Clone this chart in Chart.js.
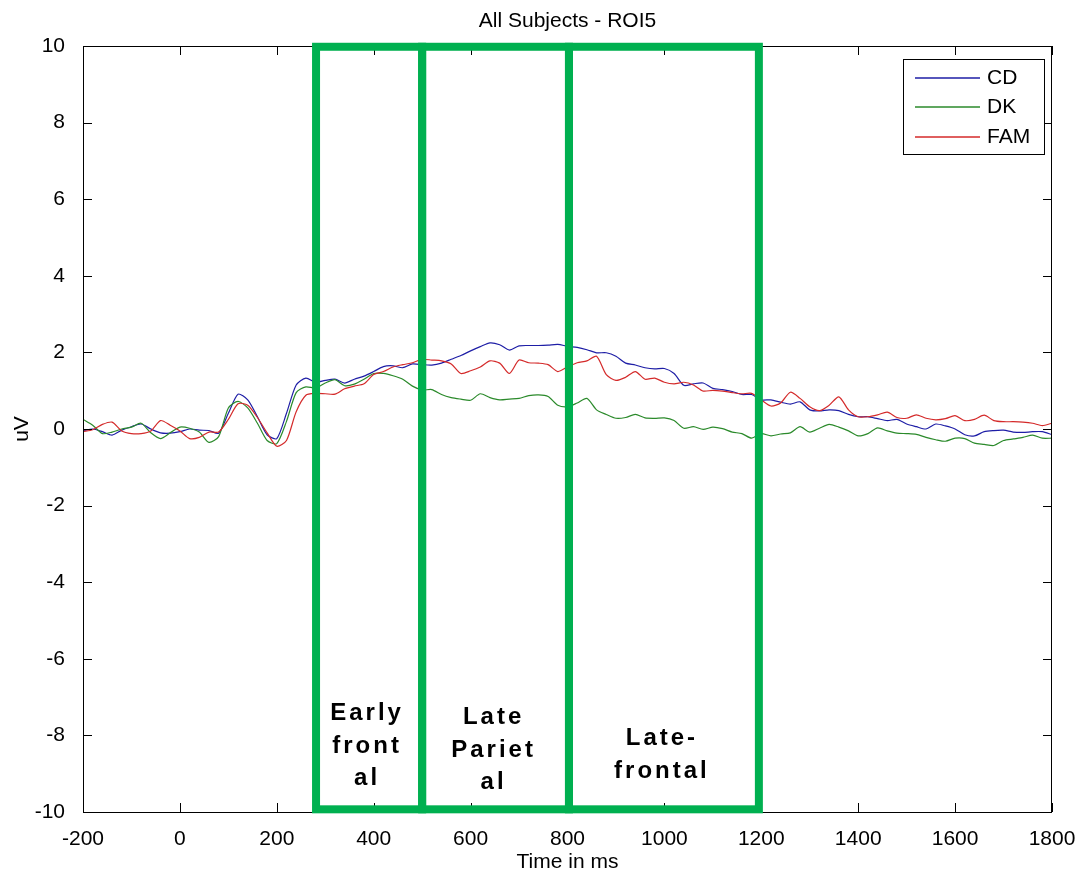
<!DOCTYPE html>
<html>
<head>
<meta charset="utf-8">
<title>All Subjects - ROI5</title>
<script src="https://cdn.jsdelivr.net/npm/chart.js@4.4.0/dist/chart.umd.min.js"></script>
<style>
	html, body { margin: 0; padding: 0; background: #ffffff; }
	#wrapper { width: 1090px; height: 878px; }
</style>
</head>
<body>
<div id="wrapper"><canvas id="erp-chart" width="1090" height="878"></canvas></div>
<script>
// time axis, ms
const times = [
	-200, -180, -160, -140, -120, -100, -80, -60, -40, -20,
	0, 20, 40, 60, 80, 100, 120, 140, 160, 180,
	200, 220, 240, 260, 280, 300, 320, 340, 360, 380,
	400, 420, 440, 460, 480, 500, 520, 540, 560, 580,
	600, 620, 640, 660, 680, 700, 720, 740, 760, 780,
	800, 820, 840, 860, 880, 900, 920, 940, 960, 980,
	1000, 1020, 1040, 1060, 1080, 1100, 1120, 1140, 1160, 1180,
	1200, 1220, 1240, 1260, 1280, 1300, 1320, 1340, 1360, 1380,
	1400, 1420, 1440, 1460, 1480, 1500, 1520, 1540, 1560, 1580,
	1600, 1620, 1640, 1660, 1680, 1700, 1720, 1740, 1760, 1780,
	1800
];

// uV
const cd = [
	-0.05, 0.00, -0.07, -0.16, -0.03, 0.06, 0.13, 0.00, -0.10, -0.11,
	-0.07, 0.00, -0.03, -0.04, -0.11, 0.41, 0.91, 0.76, 0.32, -0.15,
	-0.25, 0.41, 1.15, 1.33, 1.22, 1.27, 1.30, 1.20, 1.30, 1.38,
	1.50, 1.63, 1.65, 1.60, 1.70, 1.68, 1.67, 1.72, 1.82, 1.92,
	2.04, 2.15, 2.25, 2.20, 2.06, 2.17, 2.18, 2.18, 2.19, 2.21,
	2.16, 2.13, 2.07, 1.99, 1.99, 1.90, 1.72, 1.67, 1.60, 1.57,
	1.58, 1.45, 1.14, 1.18, 1.20, 1.06, 1.03, 0.98, 0.90, 0.90,
	0.76, 0.76, 0.70, 0.65, 0.71, 0.50, 0.47, 0.50, 0.48, 0.38,
	0.32, 0.32, 0.27, 0.22, 0.25, 0.13, 0.06, 0.00, 0.13, 0.08,
	0.00, -0.15, -0.18, -0.07, -0.04, -0.03, -0.08, -0.09, -0.07, -0.07,
	-0.15
];

const dk = [
	0.25, 0.10, -0.12, -0.08, 0.00, 0.05, 0.15, -0.10, -0.25, -0.10,
	0.05, 0.02, -0.08, -0.35, -0.20, 0.55, 0.72, 0.55, 0.15, -0.30,
	-0.38, 0.20, 0.95, 1.10, 1.07, 1.20, 1.29, 1.13, 1.17, 1.30,
	1.45, 1.45, 1.39, 1.30, 1.12, 1.02, 1.03, 0.90, 0.82, 0.78,
	0.75, 0.92, 0.82, 0.76, 0.78, 0.80, 0.87, 0.89, 0.85, 0.62,
	0.58, 0.68, 0.80, 0.50, 0.38, 0.28, 0.30, 0.38, 0.29, 0.28,
	0.29, 0.22, 0.02, 0.06, -0.01, 0.05, 0.01, -0.08, -0.12, -0.24,
	-0.12, -0.18, -0.13, -0.10, 0.06, -0.08, 0.02, 0.12, 0.05, -0.05,
	-0.18, -0.12, 0.03, -0.05, -0.11, -0.12, -0.14, -0.22, -0.28, -0.32,
	-0.24, -0.25, -0.37, -0.40, -0.43, -0.30, -0.26, -0.22, -0.16, -0.24,
	-0.24
];

const fam = [
	-0.07, -0.02, 0.12, 0.18, -0.05, -0.12, -0.12, -0.05, 0.22, 0.10,
	-0.05, -0.25, -0.22, -0.08, -0.08, 0.25, 0.66, 0.62, 0.30, -0.10,
	-0.45, -0.30, 0.45, 0.88, 0.93, 0.92, 0.91, 1.05, 1.12, 1.18,
	1.42, 1.50, 1.62, 1.68, 1.73, 1.82, 1.80, 1.78, 1.70, 1.45,
	1.52, 1.62, 1.78, 1.72, 1.45, 1.80, 1.73, 1.72, 1.68, 1.50,
	1.62, 1.73, 1.78, 1.90, 1.42, 1.27, 1.35, 1.50, 1.30, 1.33,
	1.22, 1.18, 1.22, 1.15, 0.99, 1.01, 0.99, 0.95, 0.92, 0.93,
	0.76, 0.60, 0.68, 0.96, 0.80, 0.58, 0.48, 0.62, 0.84, 0.50,
	0.32, 0.32, 0.37, 0.44, 0.30, 0.28, 0.37, 0.28, 0.24, 0.27,
	0.35, 0.22, 0.25, 0.36, 0.22, 0.19, 0.19, 0.18, 0.15, 0.09,
	0.15
];

const seriesNames = ["CD", "DK", "FAM"];

// marked time windows (ms) and their captions
const regionStart = [281, 500, 803];
const regionEnd = [500, 803, 1195];
const regionText = [
	["Early", "front", "al"],
	["Late", "Pariet", "al"],
	["Late-", "frontal"]
];

const xTicks = { min: -200, max: 1800, step: 200 };
const yTicks = { min: -10, max: 10, step: 2 };

const FONT = "'Liberation Sans', Arial, Helvetica, sans-serif";
const colors = ["#1e1ea6", "#2b8a2b", "#d42a2a"];
const boxColor = "#00b050";

const toPoints = (vals) => times.map((t, i) => ({ x: t, y: vals[i] }));

// Matlab style frame: box, inward ticks, legend, titles, region boxes
const matlabFrame = {
	id: "matlabFrame",
	afterDraw(chart) {
		const ctx = chart.ctx;
		const { left, right, top, bottom } = chart.chartArea;
		const xs = chart.scales.x;
		const ys = chart.scales.y;
		const tickLen = 9;

		ctx.save();
		ctx.strokeStyle = "#000000";
		ctx.lineWidth = 1;
		ctx.strokeRect(left + 0.5, top + 0.5, right - left - 1, bottom - top);

		ctx.beginPath();
		xs.ticks.forEach((t) => {
			const px = Math.round(xs.getPixelForValue(t.value)) + 0.5;
			ctx.moveTo(px, bottom);
			ctx.lineTo(px, bottom - tickLen);
			ctx.moveTo(px, top);
			ctx.lineTo(px, top + tickLen);
		});
		ys.ticks.forEach((t) => {
			const py = Math.round(ys.getPixelForValue(t.value)) + 0.5;
			ctx.moveTo(left, py);
			ctx.lineTo(left + tickLen, py);
			ctx.moveTo(right, py);
			ctx.lineTo(right - tickLen, py);
		});
		ctx.stroke();

		// green region boxes
		ctx.strokeStyle = boxColor;
		ctx.lineWidth = 8;
		const yTop = ys.getPixelForValue(9.98);
		const yBot = ys.getPixelForValue(-9.93);
		regionStart.forEach((s, i) => {
			const x0 = xs.getPixelForValue(s);
			const x1 = xs.getPixelForValue(regionEnd[i]);
			ctx.strokeRect(x0, yTop, x1 - x0, yBot - yTop);
		});

		// captions inside the boxes
		const capMid = [746, 750, 755];
		const capLine = 32.5;
		ctx.fillStyle = "#000000";
		ctx.font = "bold 24px " + FONT;
		ctx.textAlign = "center";
		ctx.textBaseline = "middle";
		if ("letterSpacing" in ctx) ctx.letterSpacing = "3px";
		regionText.forEach((lines, i) => {
			const cx = (xs.getPixelForValue(regionStart[i]) + xs.getPixelForValue(regionEnd[i])) / 2;
			const y0 = capMid[i] - ((lines.length - 1) * capLine) / 2;
			lines.forEach((ln, j) => {
				ctx.fillText(ln, cx - 2, y0 + j * capLine);
			});
		});
		if ("letterSpacing" in ctx) ctx.letterSpacing = "0px";

		// legend
		const lg = { x: 903, y: 59, w: 141, h: 95 };
		ctx.fillStyle = "#ffffff";
		ctx.fillRect(lg.x, lg.y, lg.w, lg.h);
		ctx.strokeStyle = "#000000";
		ctx.lineWidth = 1;
		ctx.strokeRect(lg.x + 0.5, lg.y + 0.5, lg.w, lg.h);
		const rowY = [78, 107, 137];
		ctx.font = "21px " + FONT;
		ctx.textAlign = "left";
		seriesNames.forEach((name, i) => {
			ctx.strokeStyle = colors[i];
			ctx.lineWidth = 1.4;
			ctx.beginPath();
			ctx.moveTo(915, rowY[i]);
			ctx.lineTo(980, rowY[i]);
			ctx.stroke();
			ctx.fillStyle = "#000000";
			ctx.fillText(name, 987, rowY[i]);
		});

		// titles
		ctx.textAlign = "center";
		ctx.font = "21px " + FONT;
		ctx.fillText("All Subjects - ROI5", (left + right) / 2, 21);
		ctx.fillText("Time in ms", (left + right) / 2, 862);
		ctx.translate(22, (top + bottom) / 2);
		ctx.rotate(-Math.PI / 2);
		ctx.fillText("uV", 0, 0);
		ctx.restore();
	},
};

const ctx = document.getElementById("erp-chart").getContext("2d");

new Chart(ctx, {
	type: "line",
	data: {
		datasets: [
			{ label: seriesNames[0], data: toPoints(cd), borderColor: colors[0], order: 2 },
			{ label: seriesNames[1], data: toPoints(dk), borderColor: colors[1], order: 1 },
			{ label: seriesNames[2], data: toPoints(fam), borderColor: colors[2], order: 0 },
		],
	},
	options: {
		responsive: false,
		animation: false,
		devicePixelRatio: 1,
		layout: { padding: { top: 46, right: 38, left: 0, bottom: 0 } },
		elements: {
			line: { borderWidth: 1.2, tension: 0.25, fill: false },
			point: { radius: 0 },
		},
		scales: {
			x: {
				type: "linear",
				min: xTicks.min,
				max: xTicks.max,
				grid: { display: false },
				border: { display: false },
				ticks: {
					stepSize: xTicks.step,
					color: "#000000",
					padding: 7,
					maxRotation: 0,
					font: { family: FONT, size: 21 },
					callback: (v) => String(v),
				},
				afterFit: (scale) => { scale.height = 66; },
			},
			y: {
				min: yTicks.min,
				max: yTicks.max,
				grid: { display: false },
				border: { display: false },
				ticks: {
					stepSize: yTicks.step,
					color: "#000000",
					padding: 10,
					font: { family: FONT, size: 21 },
					callback: (v) => String(v),
				},
				afterFit: (scale) => { scale.width = 83; },
			},
		},
		plugins: {
			legend: { display: false },
			title: { display: false },
			tooltip: { enabled: false },
		},
	},
	plugins: [matlabFrame],
});
</script>
</body>
</html>
